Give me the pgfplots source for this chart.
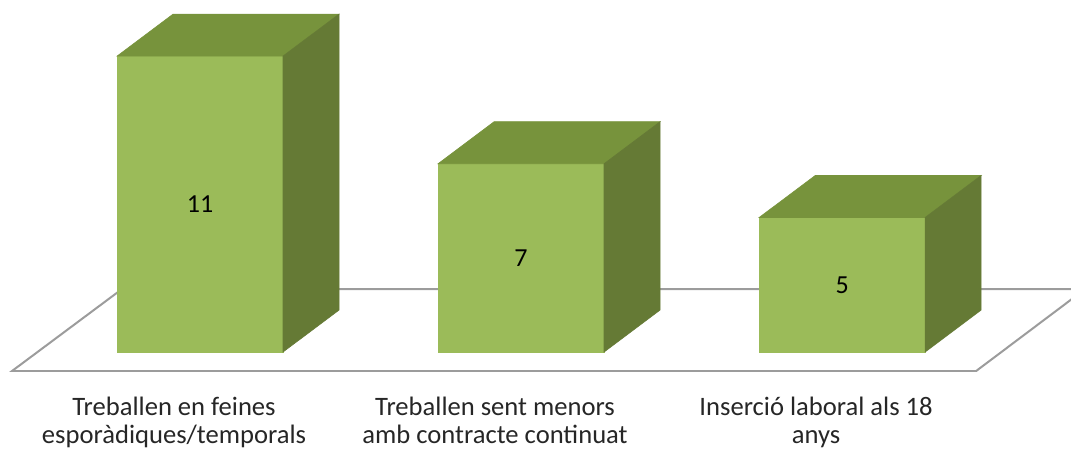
\documentclass[border=0pt]{standalone}
\usepackage{fontspec}
\setmainfont{Carlito}
\usepackage{pgfplots}
\pgfplotsset{compat=1.18}
\definecolor{frontgreen}{HTML}{9BBB59}
\definecolor{topgreen}{HTML}{77933C}
\definecolor{sidegreen}{HTML}{657A35}
\definecolor{floorgray}{HTML}{9C9C9C}
\definecolor{txt}{HTML}{262626}

\begin{document}
\begin{tikzpicture}
\begin{axis}[
    name=ax,
    x=160.5pt, y=13.45pt,
    xmin=-0.623, xmax=2.713,
    ymin=-0.706, ymax=13.086,
    axis line style={draw=none},
    tick style={draw=none},
    ytick=\empty,
    xtick={0,1,2},
    xticklabels={Treballen en feines\\esporàdiques/temporals,
                 Treballen sent menors\\amb contracte continuat,
                 Inserció laboral als 18\\anys},
    xticklabel style={align=center, anchor=north, inner sep=0pt,
        font=\fontsize{13.3pt}{14pt}\selectfont, text=txt,
        yshift=-12.6pt, xshift=-13pt},
    /pgf/number format/assume math mode=true,
]
% floor
\addplot[draw=floorgray, line width=1pt, no marks] coordinates {
    (-0.5857,-0.706) (2.4174,-0.706) (2.757,2.342) (-0.243,2.342)} --cycle;
% front faces
\addplot[ybar, bar width=0.517, fill=frontgreen, draw=frontgreen, line width=0.3pt,
    visualization depends on={rawy \as \ry},
    nodes near coords,
    every node near coord/.append style={anchor=center, text=black,
        font=\fontsize{13pt}{14pt}\selectfont, yshift=-\ry*6.725pt}]
    coordinates {(0,11) (1,7) (2,5)};
% top faces
\addplot[fill=topgreen, draw=topgreen, line width=0.3pt, no marks] coordinates {
    (-0.2585,11) (0.2585,11) (0.433,12.561) (-0.084,12.561)} --cycle;
\addplot[fill=topgreen, draw=topgreen, line width=0.3pt, no marks] coordinates {
    (0.7415,7) (1.2585,7) (1.433,8.561) (0.916,8.561)} --cycle;
\addplot[fill=topgreen, draw=topgreen, line width=0.3pt, no marks] coordinates {
    (1.7415,5) (2.2585,5) (2.433,6.561) (1.916,6.561)} --cycle;
% side faces
\addplot[fill=sidegreen, draw=sidegreen, line width=0.3pt, no marks] coordinates {
    (0.2585,0) (0.433,1.561) (0.433,12.561) (0.2585,11)} --cycle;
\addplot[fill=sidegreen, draw=sidegreen, line width=0.3pt, no marks] coordinates {
    (1.2585,0) (1.433,1.561) (1.433,8.561) (1.2585,7)} --cycle;
\addplot[fill=sidegreen, draw=sidegreen, line width=0.3pt, no marks] coordinates {
    (2.2585,0) (2.433,1.561) (2.433,6.561) (2.2585,5)} --cycle;
\end{axis}
\pgfresetboundingbox
\path (ax.south west) ++(0,-39.5pt) rectangle (ax.north east);
\end{tikzpicture}
\end{document}
